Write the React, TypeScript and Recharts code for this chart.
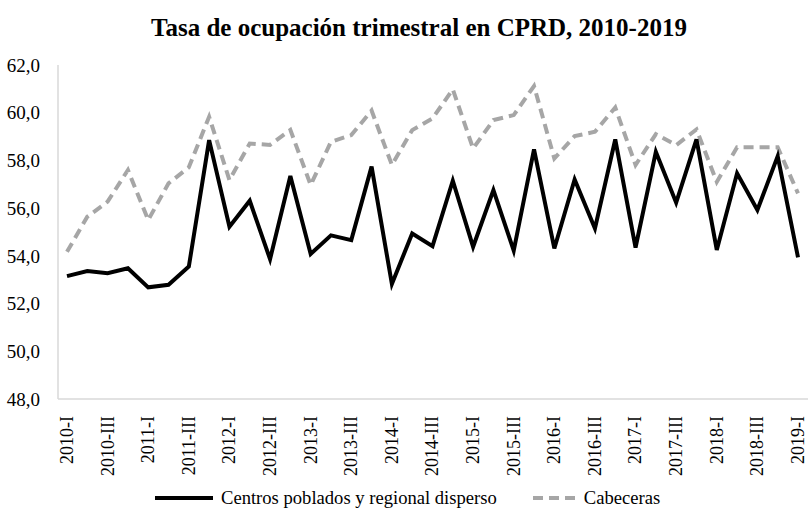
import React from "react";
import { LineChart, Line, XAxis, YAxis } from "recharts";

const quarters = [
  "2010-I", "2010-II", "2010-III", "2010-IV",
  "2011-I", "2011-II", "2011-III", "2011-IV",
  "2012-I", "2012-II", "2012-III", "2012-IV",
  "2013-I", "2013-II", "2013-III", "2013-IV",
  "2014-I", "2014-II", "2014-III", "2014-IV",
  "2015-I", "2015-II", "2015-III", "2015-IV",
  "2016-I", "2016-II", "2016-III", "2016-IV",
  "2017-I", "2017-II", "2017-III", "2017-IV",
  "2018-I", "2018-II", "2018-III", "2018-IV",
  "2019-I",
];

const centrosPoblados = [
  53.15, 53.36, 53.27, 53.48,
  52.68, 52.79, 53.55, 58.85,
  55.22, 56.31, 53.86, 57.35,
  54.08, 54.86, 54.66, 57.74,
  52.82, 54.94, 54.41, 57.15,
  54.38, 56.76, 54.22, 58.46,
  54.31, 57.2, 55.15, 58.88,
  54.35, 58.36, 56.23, 58.88,
  54.25, 57.46, 55.92, 58.18,
  53.94,
];

const cabeceras = [
  54.17, 55.64, 56.27, 57.6,
  55.5, 57.04, 57.71, 59.83,
  57.18, 58.71, 58.65, 59.28,
  56.97, 58.78, 59.06, 60.09,
  57.81, 59.27, 59.76, 60.98,
  58.5, 59.69, 59.9, 61.12,
  58.08, 59.02, 59.2, 60.22,
  57.81, 59.1, 58.64, 59.3,
  57.1, 58.55, 58.55, 58.55,
  56.62,
];

const yTicks = [48, 50, 52, 54, 56, 58, 60, 62];

const title = "Tasa de ocupación trimestral en CPRD, 2010-2019";
const seriesNames = ["Centros poblados y regional disperso", "Cabeceras"];

const data = quarters.map((q, i) => ({
  q,
  centros: centrosPoblados[i],
  cabeceras: cabeceras[i],
}));

const FONT = '"Liberation Serif", "Times New Roman", serif';

const XTick = (props: any) => {
  const { x, y, payload } = props;
  return (
    <text
      x={x}
      y={y}
      transform={`rotate(-90 ${x} ${y})`}
      textAnchor="end"
      dy="0.33em"
      fontFamily={FONT}
      fontSize={18}
      fill="#000"
    >
      {payload.value}
    </text>
  );
};

const ChartLegend = () => (
  <div
    style={{
      position: "absolute",
      left: 0,
      top: 483,
      width: 808,
      height: 30,
      display: "flex",
      alignItems: "center",
      paddingLeft: 155,
      fontFamily: FONT,
      fontSize: 18.6,
      color: "#000",
      boxSizing: "border-box",
    }}
  >
    <svg width={58} height={8} style={{ marginRight: 8 }}>
      <line x1={0} y1={4} x2={58} y2={4} stroke="#000" strokeWidth={4} />
    </svg>
    <span>{seriesNames[0]}</span>
    <svg width={44} height={8} style={{ marginLeft: 36, marginRight: 7 }}>
      <line x1={0} y1={4} x2={44} y2={4} stroke="#A6A6A6" strokeWidth={4} strokeDasharray="10 6" />
    </svg>
    <span>{seriesNames[1]}</span>
  </div>
);

export default function App() {
  return (
    <div style={{ position: "absolute", left: 0, top: 0, width: 808, height: 511, background: "#fff", overflow: "hidden" }}>
      <div
        style={{
          position: "absolute",
          left: 30,
          top: 13,
          width: 778,
          textAlign: "center",
          fontFamily: FONT,
          fontWeight: "bold",
          fontSize: 25,
          lineHeight: "30px",
          color: "#000",
          zIndex: 2,
        }}
      >
        {title}
      </div>
      <LineChart
        width={808}
        height={511}
        data={data}
        margin={{ top: 65, right: 0, left: 0, bottom: 0 }}
      >
        <XAxis
          dataKey="q"
          interval={1}
          tick={<XTick />}
          tickLine={false}
          axisLine={{ stroke: "#D9D9D9", strokeWidth: 1.5 }}
          height={112}
          tickMargin={11}
          padding={{ left: 9, right: 10 }}
        />
        <YAxis
          domain={[48, 62]}
          ticks={yTicks}
          width={58}
          tickLine={false}
          axisLine={{ stroke: "#D9D9D9", strokeWidth: 1.5 }}
          tickMargin={12}
          tickFormatter={(v: number) => v.toFixed(1).replace(".", ",")}
          tick={{ fontFamily: FONT, fontSize: 19, fill: "#000" }}
        />
        <Line
          type="linear"
          dataKey="cabeceras"
          name={seriesNames[1]}
          stroke="#A6A6A6"
          strokeWidth={4}
          strokeDasharray="10 6"
          dot={false}
          isAnimationActive={false}
        />
        <Line
          type="linear"
          dataKey="centros"
          name={seriesNames[0]}
          stroke="#000"
          strokeWidth={4}
          dot={false}
          isAnimationActive={false}
        />
      </LineChart>
      <ChartLegend />
    </div>
  );
}
